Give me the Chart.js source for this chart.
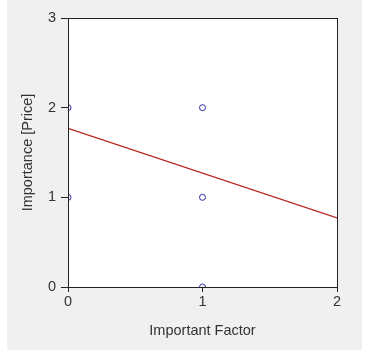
<!DOCTYPE html>
<html>
<head>
<meta charset="utf-8">
<script src="https://cdn.jsdelivr.net/npm/chart.js@4"></script>
<style>
  html, body { margin: 0; padding: 0; background: #ffffff; }
  #wrap { position: absolute; left: 0; top: 0; width: 371px; height: 350px; }
  #bg { position: absolute; left: 7px; top: 0; width: 355px; height: 350px; background: #f0f0f0; }
  canvas { position: absolute; left: 0; top: 0; }
</style>
</head>
<body>
<div id="wrap">
  <div id="bg"></div>
  <canvas id="chart1" width="371" height="350"></canvas>
</div>
<script>
// data
var factorX = [0, 0, 1, 1, 1];
var priceY = [2, 1, 2, 1, 0];
var fitX = [0, 2];
var fitY = [1.77, 0.77];
var xTicks = [0, 1, 2];
var yTicks = [0, 1, 2, 3];

var points = factorX.map(function(x, i){ return {x: x, y: priceY[i]}; });
var fitLine = fitX.map(function(x, i){ return {x: x, y: fitY[i]}; });

// 枠線（上・右も）
var boxPlugin = {
    id: 'box',
    afterDraw: function(chart) {
        var a = chart.chartArea, ctx = chart.ctx;
        ctx.save();
        ctx.strokeStyle = '#222';
        ctx.lineWidth = 1;
        ctx.strokeRect(Math.round(a.left) + 0.5, Math.round(a.top) + 0.5,
            Math.round(a.right - a.left), Math.round(a.bottom - a.top));
        ctx.restore();
    }
};

var bgPlugin = {
    id: 'plotbg',
    beforeDraw: function(chart) {
        var a = chart.chartArea, ctx = chart.ctx;
        ctx.save();
        ctx.fillStyle = '#ffffff';
        ctx.fillRect(a.left, a.top, a.right - a.left, a.bottom - a.top);
        ctx.restore();
    }
};

var tickFont = { family: 'Liberation Sans, Arial, sans-serif', size: 14.5 };
var titleFont = { family: 'Liberation Sans, Arial, sans-serif', size: 14.5 };

var ctx = document.getElementById('chart1').getContext('2d');
var chart = new Chart(ctx, {
    type: 'scatter',
    data: {
        datasets: [{
            type: 'line',
            data: fitLine,
            borderColor: '#b82020',
            borderWidth: 1.2,
            pointRadius: 0,
            fill: false
        }, {
            data: points,
            pointStyle: 'circle',
            pointRadius: 3,
            borderColor: '#2a2aa0',
            borderWidth: 1,
            backgroundColor: 'rgba(255,255,255,0)'
        }]
    },
    options: {
        responsive: false,
        animation: false,
        events: [],
        layout: { padding: { left: 0, right: 34, top: 18, bottom: 0 } },
        plugins: {
            legend: { display: false },
            tooltip: { enabled: false }
        },
        scales: {
            x: {
                type: 'linear',
                min: 0, max: 2,
                afterBuildTicks: function(s){ s.ticks = xTicks.map(function(v){ return {value: v}; }); },
                afterFit: function(s){ s.height = 63; },
                grid: { drawOnChartArea: false, drawTicks: true, tickLength: 5, tickColor: '#222' },
                border: { display: true, color: '#222' },
                ticks: { font: tickFont, color: '#333', padding: 1, maxRotation: 0 },
                title: { display: true, text: 'Important Factor', font: titleFont, color: '#333', padding: { top: 0, bottom: 10 } }
            },
            y: {
                type: 'linear',
                min: 0, max: 3,
                afterBuildTicks: function(s){ s.ticks = yTicks.map(function(v){ return {value: v}; }); },
                afterFit: function(s){ s.width = 68; },
                grid: { drawOnChartArea: false, drawTicks: true, tickLength: 7, tickColor: '#222' },
                border: { display: true, color: '#222' },
                ticks: { font: tickFont, color: '#333', padding: 5 },
                title: { display: true, text: 'Importance [Price]', font: titleFont, color: '#333', padding: { top: 19, bottom: 0 } }
            }
        }
    },
    plugins: [bgPlugin, boxPlugin]
});
</script>
</body>
</html>
